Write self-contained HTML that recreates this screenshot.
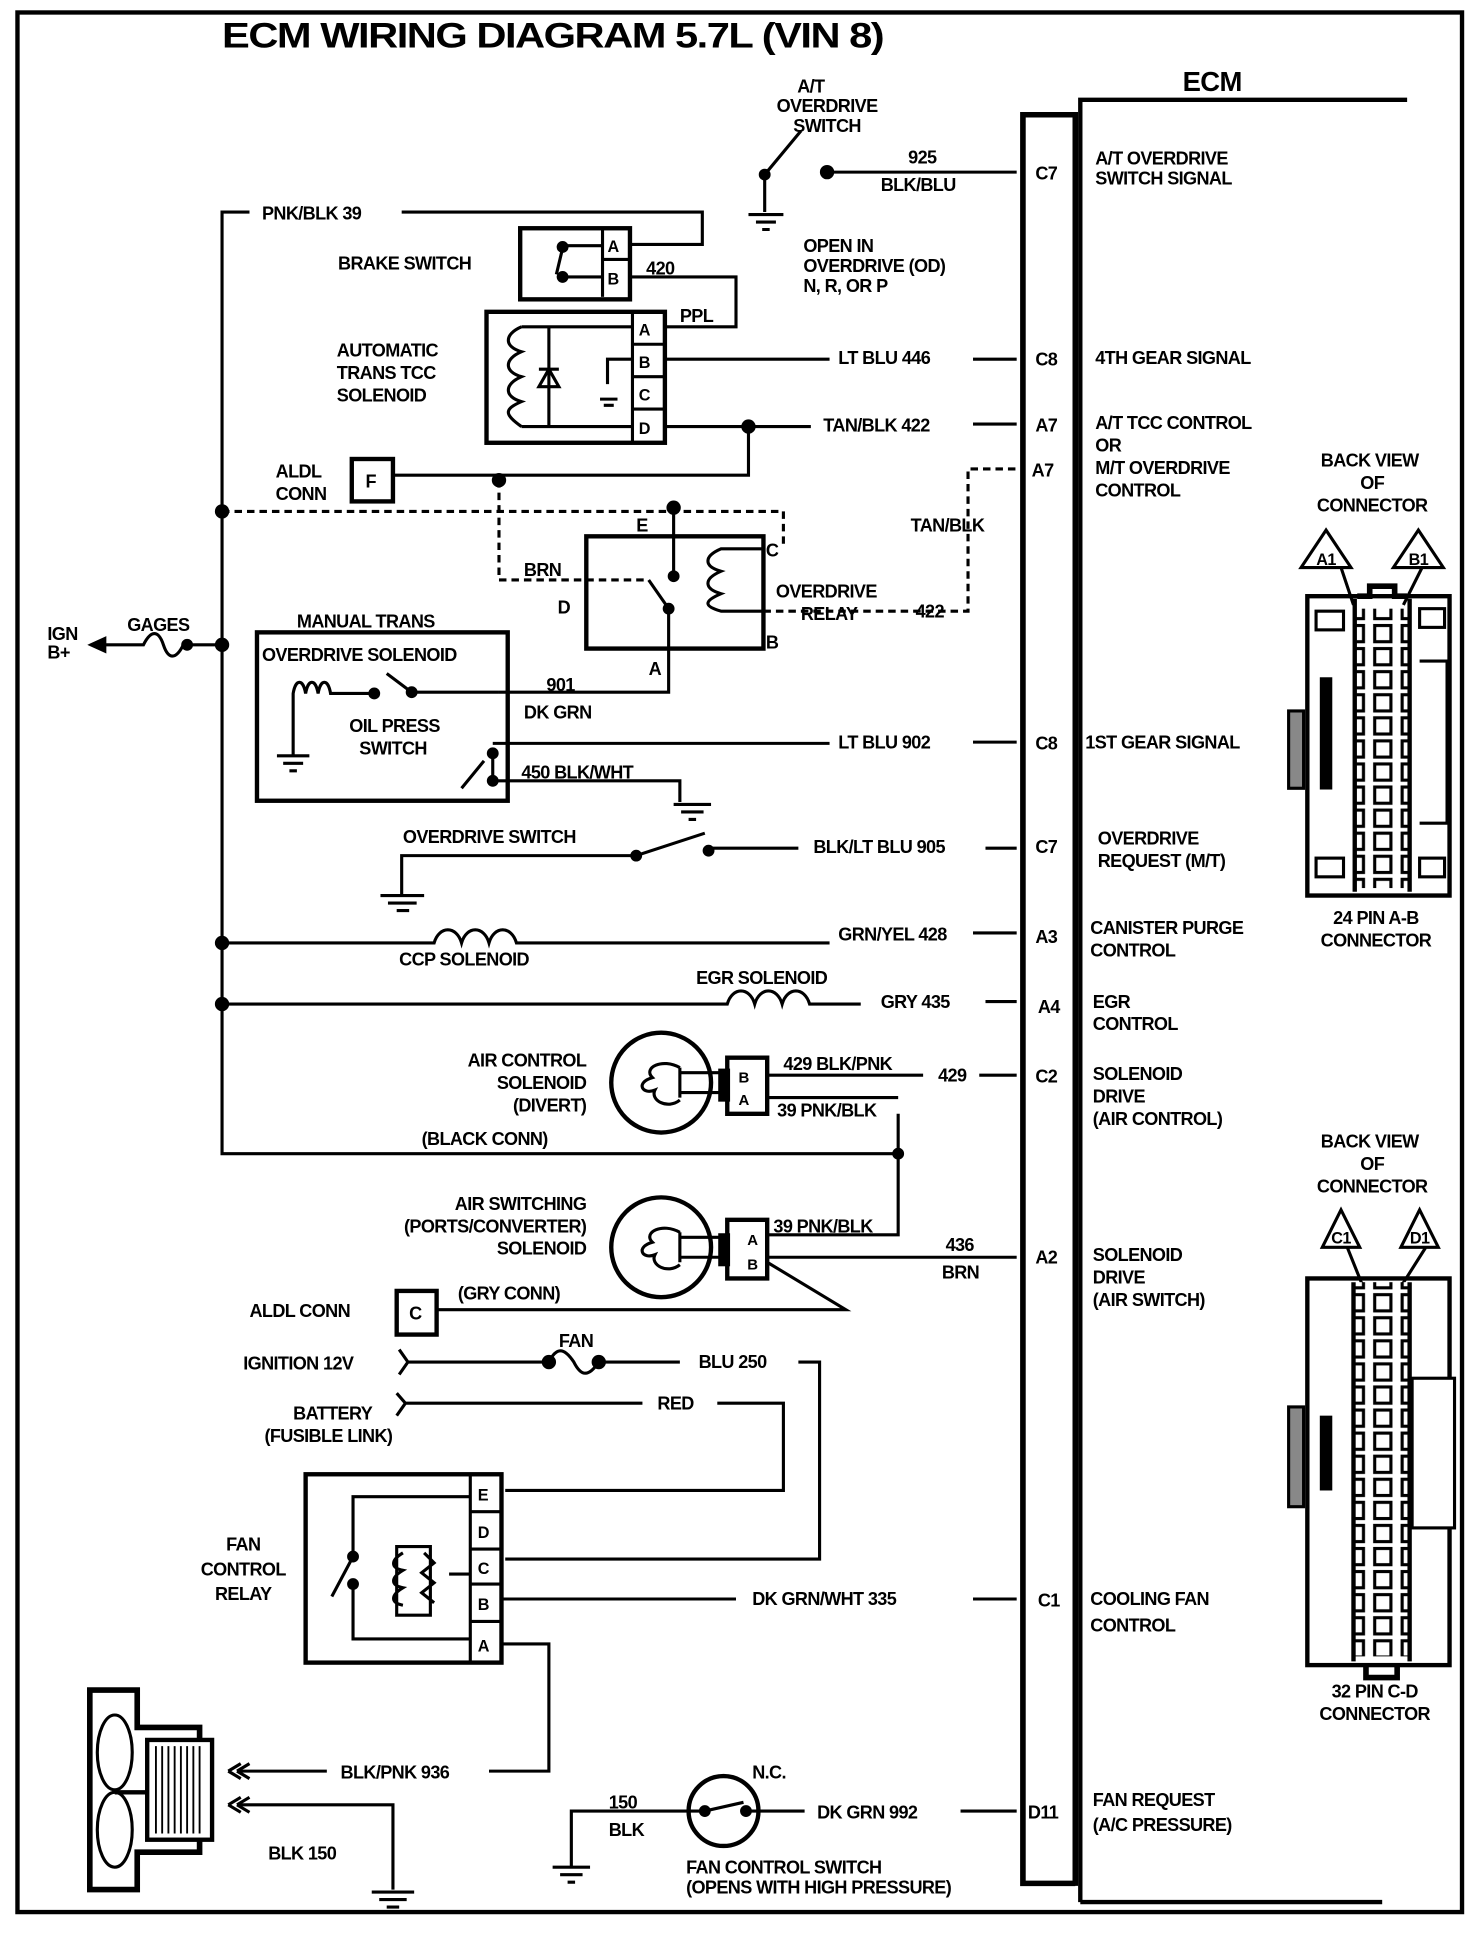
<!DOCTYPE html>
<html><head><meta charset="utf-8"><style>
html,body{margin:0;padding:0;background:#fff;}
svg{display:block;}
text{font-family:"Liberation Sans Narrow","Liberation Sans",sans-serif;font-weight:bold;font-size:14.5px;letter-spacing:-0.5px;fill:#000;}
</style></head><body>
<svg width="1472" height="1942" viewBox="0 0 1180 1557" preserveAspectRatio="none" xmlns="http://www.w3.org/2000/svg">
<defs>
<pattern id="sq" x="0" y="0" width="22" height="18.5" patternUnits="userSpaceOnUse">
<rect x="2" y="2" width="13" height="13" fill="#fff" stroke="#000" stroke-width="2.5"/>
</pattern>
</defs>
<g fill="none" stroke="#000" stroke-width="2.5">
<rect x="14" y="10" width="1158" height="1523" stroke-width="3.5"/>
<path d="M862 1512 V92 H820 V1510 H862" stroke-width="4.5"/>
<path d="M866 1525 V80 H1128" stroke-width="3.5"/>
<path d="M866 1525 H1108" stroke-width="3.5"/>
<path d="M613 170 V140 L642 105"/>
<circle cx="613" cy="140" r="3.5" fill="#000"/>
<circle cx="663" cy="138" r="4.5" fill="#000"/>
<path d="M663 138 H815"/>
<path d="M600 172 H628 M606 178 H622 M611 184 H617"/>
<path d="M200 170 H178 V925 H720 V893 M720 925 V990 H615"/>
<path d="M322 170 H563 V196 H505"/>
<rect x="417" y="183" width="88" height="57" stroke-width="3.5"/>
<path d="M483 183 V238 M483 208 H505"/>
<path d="M451 197 H483 M451 222 H483 M451 199 L446 220"/>
<circle cx="451" cy="198" r="3.5" fill="#000"/><circle cx="451" cy="222" r="3.5" fill="#000"/>
<path d="M505 222 H590 V262 H533"/>
<rect x="390" y="250" width="143" height="105" stroke-width="3.5"/>
<path d="M507 250 V355 M507 276 H533 M507 302 H533 M507 328 H533"/>
<path d="M507 262 H418 M507 342 H418 M440 262 V342 M418 262 c-14 6 -14 16 0 20 c-14 6 -14 16 0 20 c-14 6 -14 16 0 20 c-14 6 -14 10 0 20"/>
<path d="M432 310 L448 310 L440 296 Z M432 296 H448"/>
<path d="M507 288 H487 V308 M481 320 H495 M484 325 H492"/>
<path d="M533 288 H665 M780 288 H815"/>
<path d="M533 342 H650 M780 340 H815"/>
<circle cx="600" cy="342" r="4.5" fill="#000"/>
<path d="M600 342 V381 H315"/>
<circle cx="400" cy="385" r="4.5" fill="#000"/>
<rect x="282" y="368" width="33" height="34" stroke-width="3.5"/>
<path d="M178 410 H628 V440 M400 385 V465 H520 M612 490 H776 V376 H815" stroke-dasharray="6 4"/>
<circle cx="178" cy="410" r="4.5" fill="#000"/>
<rect x="470" y="430" width="142" height="90" stroke-width="3.5"/>
<circle cx="540" cy="407" r="4.5" fill="#000"/>
<path d="M540 407 V462 M520 465 L536 488 M536 488 V520 H536 V555 H400"/>
<circle cx="540" cy="462" r="3.5" fill="#000"/><circle cx="536" cy="488" r="3.5" fill="#000"/>
<path d="M612 440 H578 c-14 6 -14 14 0 18 c-14 6 -14 14 0 18 c-14 6 -14 10 0 14 H612"/>
<path d="M85 517 H115 c6 -12 12 -12 16 0 c4 12 10 12 16 0 M150 517 H178"/>
<path d="M73 517 L84 512 L84 522 Z" fill="#000"/>
<circle cx="150" cy="517" r="3.5" fill="#000"/><circle cx="178" cy="517" r="4.5" fill="#000"/>
<rect x="206" y="507" width="201" height="135" stroke-width="3.5"/>
<path d="M235 605 V556 c2 -12 8 -12 10 0 c2 -12 8 -12 10 0 c2 -12 8 -12 10 0 V556 H300 M310 540 L330 555 M330 555 H400"/>
<circle cx="300" cy="556" r="3.5" fill="#000"/><circle cx="330" cy="555" r="3.5" fill="#000"/>
<path d="M222 606 H248 M227 612 H243 M232 618 H238"/>
<path d="M395 604 V628 M370 632 L388 610"/>
<circle cx="395" cy="604" r="3.5" fill="#000"/><circle cx="395" cy="626" r="3.5" fill="#000"/>
<path d="M395 596 H665 M780 595 H815"/>
<path d="M395 626 H545 V643 M540 645 H570 M546 651 H564 M552 657 H558"/>
<path d="M322 718 V686 H510 L565 668 M568 680 H640 M790 680 H815"/>
<circle cx="510" cy="686" r="3.5" fill="#000"/><circle cx="568" cy="682" r="3.5" fill="#000"/>
<path d="M305 718 H340 M311 724 H334 M318 730 H328"/>
<circle cx="178" cy="756" r="4.5" fill="#000"/>
<path d="M178 756 H348 c4 -14 18 -14 22 0 c4 -14 18 -14 22 0 c4 -14 18 -14 22 0 H665 M780 748 H815"/>
<circle cx="178" cy="805" r="4.5" fill="#000"/>
<path d="M178 805 H583 c4 -14 18 -14 22 0 c4 -14 18 -14 22 0 c4 -14 18 -14 22 0 H690 M790 803 H815"/>
<circle cx="530" cy="868" r="40" stroke-width="3.5"/>
<path d="M545 860 H580 M545 876 H580 M545 856 V880 M545 856 c-14 -8 -30 0 -22 8 c-14 4 -8 14 2 10 c-4 8 10 16 20 8"/>
<rect x="583" y="848" width="32" height="45" stroke-width="3.5"/><rect x="577" y="858" width="7" height="24" fill="#000"/>
<path d="M615 862 H740 M785 862 H815 M615 880 H720"/>
<circle cx="720" cy="925" r="3.5" fill="#000"/>
<circle cx="530" cy="1000" r="40" stroke-width="3.5"/>
<path d="M545 992 H580 M545 1008 H580 M545 988 V1012 M545 988 c-14 -8 -30 0 -22 8 c-14 4 -8 14 2 10 c-4 8 10 16 20 8"/>
<rect x="583" y="978" width="32" height="47" stroke-width="3.5"/><rect x="577" y="990" width="7" height="24" fill="#000"/>
<path d="M615 1008 H815 M615 1012 L678 1050 H350"/>
<rect x="318" y="1035" width="32" height="35" stroke-width="3.5"/>
<path d="M320 1082 L327 1092 L320 1102 M327 1092 H440 M440 1092 c6 -12 12 -12 20 0 c6 12 12 12 20 0 H545 M640 1092 H657 V1250 H405"/>
<circle cx="440" cy="1092" r="4.5" fill="#000"/><circle cx="480" cy="1092" r="4.5" fill="#000"/>
<path d="M318 1117 L325 1125 L318 1135 M325 1125 H515 M575 1125 H628 V1195 H405"/>
<rect x="245" y="1182" width="157" height="151" stroke-width="3.5"/>
<path d="M377 1182 V1333 M377 1212 H402 M377 1242 H402 M377 1270 H402 M377 1300 H402"/>
<path d="M377 1200 H283 V1248 M266 1280 L283 1248 M283 1270 V1314 H377"/>
<circle cx="283" cy="1248" r="3.5" fill="#000"/><circle cx="283" cy="1270" r="3.5" fill="#000"/>
<path d="M318 1240 H345 V1295 H318 Z M360 1262 H377 M323 1245 c-10 6 -10 12 0 14 c-10 6 -10 12 0 14 c-10 6 -10 12 0 14 M340 1245 l8 8 l-10 8 l10 8 l-10 8 l10 8"/>
<path d="M402 1282 H590 M780 1282 H815 M402 1318 H440 V1420 H392 M262 1420 H190 M315 1515 V1447 H190"/>
<path d="M190 1420 l10 -6 M190 1420 l10 6 M183 1420 l10 -6 M183 1420 l10 6 M190 1447 l10 -6 M190 1447 l10 6 M183 1447 l10 -6 M183 1447 l10 6"/>
<path d="M298 1517 H332 M304 1523 H326 M310 1529 H320"/>
<path d="M72 1355 H110 V1385 H160 V1485 H110 V1515 H72 Z" stroke-width="4.5"/>
<ellipse cx="92" cy="1405" rx="14" ry="30"/><ellipse cx="92" cy="1467" rx="14" ry="30"/>
<rect x="118" y="1395" width="52" height="80" fill="#fff" stroke-width="3.5"/>
<path d="M125 1400 V1470 M130 1400 V1470 M135 1400 V1470 M140 1400 V1470 M145 1400 V1470 M150 1400 V1470 M155 1400 V1470 M160 1400 V1470" stroke-width="1.5"/>
<path d="M92 1437 H118" stroke-width="3.5"/>
<circle cx="580" cy="1452" r="28" stroke-width="3.5"/>
<path d="M458 1497 V1452 H565 L596 1445 M598 1452 H645 M770 1452 H815"/>
<circle cx="565" cy="1452" r="3.5" fill="#000"/><circle cx="598" cy="1452" r="3.5" fill="#000"/>
<path d="M443 1497 H473 M449 1503 H467 M455 1509 H461"/>
<path d="M1063 425 L1043 455 H1083 Z M1137 425 L1117 455 H1157 Z M1075 455 L1085 485 M1140 455 L1125 485"/>
<path d="M1088 478 H1098 V470 H1118 V478 H1128" stroke-width="4.5"/>
<rect x="1048" y="478" width="114" height="240" stroke-width="3.5"/>
<rect x="1086" y="488" width="44" height="224" fill="url(#sq)" stroke="none"/>
<path d="M1086 480 V715 M1130 480 V715" stroke-width="3.5"/>
<rect x="1055" y="490" width="22" height="15"/><rect x="1138" y="488" width="20" height="15"/>
<rect x="1055" y="688" width="22" height="15"/><rect x="1138" y="688" width="20" height="15"/>
<rect x="1058" y="543" width="10" height="90" fill="#000" stroke="none"/>
<rect x="1033" y="570" width="12" height="62" fill="#888"/>
<path d="M1138 530 H1160 V660 H1138"/>
<path d="M1075 970 L1060 1000 H1090 Z M1138 970 L1123 1000 H1153 Z M1080 1000 L1092 1030 M1143 1000 L1124 1030"/>
<rect x="1048" y="1025" width="114" height="310" stroke-width="3.5"/>
<rect x="1085" y="1028" width="44" height="300" fill="url(#sq)" stroke="none"/>
<path d="M1085 1028 V1332 M1130 1028 V1332" stroke-width="3.5"/>
<rect x="1132" y="1105" width="34" height="120" fill="#fff"/>
<rect x="1058" y="1135" width="10" height="60" fill="#000" stroke="none"/>
<rect x="1033" y="1128" width="12" height="80" fill="#888"/>
<path d="M1095 1335 V1345 H1120 V1335" stroke-width="4.5"/>
</g>
<g>
<text x="178" y="38" style="font-size:28px;letter-spacing:-1px" textLength="530" lengthAdjust="spacingAndGlyphs">ECM WIRING DIAGRAM   5.7L (VIN 8)</text>
<text x="948" y="73" style="font-size:22px">ECM</text>
<text x="650" y="74" text-anchor="middle">A/T</text>
<text x="663" y="90" text-anchor="middle">OVERDRIVE</text>
<text x="663" y="106" text-anchor="middle">SWITCH</text>
<text x="728" y="131">925</text>
<text x="706" y="153">BLK/BLU</text>
<text x="644" y="202">OPEN IN</text>
<text x="644" y="218">OVERDRIVE (OD)</text>
<text x="644" y="234">N, R, OR P</text>
<text x="210" y="176">PNK/BLK 39</text>
<text x="271" y="216">BRAKE SWITCH</text>
<text x="487" y="202" style="font-size:13px">A</text><text x="487" y="228" style="font-size:13px">B</text>
<text x="518" y="220">420</text>
<text x="545" y="258">PPL</text>
<text x="270" y="286">AUTOMATIC</text><text x="270" y="304">TRANS TCC</text><text x="270" y="322">SOLENOID</text>
<text x="512" y="269" style="font-size:13px">A</text><text x="512" y="295" style="font-size:13px">B</text><text x="512" y="321" style="font-size:13px">C</text><text x="512" y="348" style="font-size:13px">D</text>
<text x="672" y="292">LT BLU  446</text>
<text x="660" y="346">TAN/BLK 422</text>
<text x="221" y="383">ALDL</text><text x="221" y="401">CONN</text>
<text x="293" y="391">F</text>
<text x="510" y="426">E</text>
<text x="614" y="446">C</text>
<text x="420" y="462">BRN</text>
<text x="447" y="492">D</text>
<text x="614" y="520">B</text>
<text x="520" y="541">A</text>
<text x="622" y="479">OVERDRIVE</text><text x="642" y="497">RELAY</text>
<text x="734" y="495">422</text>
<text x="730" y="426">TAN/BLK</text>
<text x="38" y="513">IGN</text><text x="38" y="528">B+</text>
<text x="102" y="506">GAGES</text>
<text x="238" y="503">MANUAL TRANS</text>
<text x="210" y="530">OVERDRIVE SOLENOID</text>
<text x="438" y="554">901</text>
<text x="420" y="576">DK GRN</text>
<text x="280" y="587">OIL PRESS</text><text x="288" y="605">SWITCH</text>
<text x="672" y="600">LT BLU  902</text>
<text x="418" y="624">450  BLK/WHT</text>
<text x="323" y="676">OVERDRIVE SWITCH</text>
<text x="652" y="684">BLK/LT BLU 905</text>
<text x="672" y="754">GRN/YEL 428</text>
<text x="320" y="774">CCP SOLENOID</text>
<text x="558" y="789">EGR SOLENOID</text>
<text x="706" y="808">GRY  435</text>
<text x="470" y="855" text-anchor="end">AIR CONTROL</text>
<text x="470" y="873" text-anchor="end">SOLENOID</text>
<text x="470" y="891" text-anchor="end">(DIVERT)</text>
<text x="592" y="868" style="font-size:12px">B</text><text x="592" y="886" style="font-size:12px">A</text>
<text x="628" y="858">429 BLK/PNK</text>
<text x="752" y="867">429</text>
<text x="623" y="895">39 PNK/BLK</text>
<text x="338" y="918">(BLACK CONN)</text>
<text x="470" y="970" text-anchor="end">AIR SWITCHING</text>
<text x="470" y="988" text-anchor="end">(PORTS/CONVERTER)</text>
<text x="470" y="1006" text-anchor="end">SOLENOID</text>
<text x="599" y="998" style="font-size:12px">A</text><text x="599" y="1018" style="font-size:12px">B</text>
<text x="620" y="988">39 PNK/BLK</text>
<text x="758" y="1003">436</text><text x="755" y="1025">BRN</text>
<text x="367" y="1042">(GRY CONN)</text>
<text x="200" y="1056">ALDL CONN</text>
<text x="328" y="1058">C</text>
<text x="448" y="1080">FAN</text>
<text x="195" y="1098">IGNITION 12V</text>
<text x="560" y="1097">BLU  250</text>
<text x="235" y="1138">BATTERY</text>
<text x="212" y="1156">(FUSIBLE LINK)</text>
<text x="527" y="1130">RED</text>
<text x="383" y="1203" style="font-size:13px">E</text><text x="383" y="1233" style="font-size:13px">D</text><text x="383" y="1262" style="font-size:13px">C</text><text x="383" y="1291" style="font-size:13px">B</text><text x="383" y="1324" style="font-size:13px">A</text>
<text x="195" y="1243" text-anchor="middle">FAN</text><text x="195" y="1263" text-anchor="middle">CONTROL</text><text x="195" y="1283" text-anchor="middle">RELAY</text>
<text x="603" y="1287">DK GRN/WHT 335</text>
<text x="273" y="1426">BLK/PNK 936</text>
<text x="215" y="1491">BLK  150</text>
<text x="603" y="1426">N.C.</text>
<text x="488" y="1450">150</text><text x="488" y="1472">BLK</text>
<text x="655" y="1458">DK GRN  992</text>
<text x="550" y="1502">FAN CONTROL SWITCH</text>
<text x="550" y="1518">(OPENS WITH HIGH PRESSURE)</text>
<text x="830" y="144">C7</text><text x="830" y="293">C8</text><text x="830" y="346">A7</text><text x="827" y="382">A7</text>
<text x="830" y="601">C8</text><text x="830" y="684">C7</text><text x="830" y="756">A3</text><text x="832" y="812">A4</text>
<text x="830" y="868">C2</text><text x="830" y="1013">A2</text><text x="832" y="1288">C1</text><text x="824" y="1458">D11</text>
<text x="878" y="132">A/T OVERDRIVE</text><text x="878" y="148">SWITCH SIGNAL</text>
<text x="878" y="292">4TH GEAR SIGNAL</text>
<text x="878" y="344">A/T TCC CONTROL</text><text x="878" y="362">OR</text><text x="878" y="380">M/T OVERDRIVE</text><text x="878" y="398">CONTROL</text>
<text x="870" y="600">1ST GEAR SIGNAL</text>
<text x="880" y="677">OVERDRIVE</text><text x="880" y="695">REQUEST (M/T)</text>
<text x="874" y="749">CANISTER PURGE</text><text x="874" y="767">CONTROL</text>
<text x="876" y="808">EGR</text><text x="876" y="826">CONTROL</text>
<text x="876" y="866">SOLENOID</text><text x="876" y="884">DRIVE</text><text x="876" y="902">(AIR CONTROL)</text>
<text x="876" y="1011">SOLENOID</text><text x="876" y="1029">DRIVE</text><text x="876" y="1047">(AIR SWITCH)</text>
<text x="874" y="1287">COOLING FAN</text><text x="874" y="1308">CONTROL</text>
<text x="876" y="1448">FAN REQUEST</text><text x="876" y="1468">(A/C PRESSURE)</text>
<text x="1098" y="374" text-anchor="middle">BACK VIEW</text><text x="1100" y="392" text-anchor="middle">OF</text><text x="1100" y="410" text-anchor="middle">CONNECTOR</text>
<text x="1063" y="453" text-anchor="middle" style="font-size:13px">A1</text><text x="1137" y="453" text-anchor="middle" style="font-size:13px">B1</text>
<text x="1103" y="741" text-anchor="middle">24 PIN  A-B</text><text x="1103" y="759" text-anchor="middle">CONNECTOR</text>
<text x="1098" y="920" text-anchor="middle">BACK VIEW</text><text x="1100" y="938" text-anchor="middle">OF</text><text x="1100" y="956" text-anchor="middle">CONNECTOR</text>
<text x="1075" y="997" text-anchor="middle" style="font-size:13px">C1</text><text x="1138" y="997" text-anchor="middle" style="font-size:13px">D1</text>
<text x="1102" y="1361" text-anchor="middle">32  PIN C-D</text><text x="1102" y="1379" text-anchor="middle">CONNECTOR</text>
</g>
</svg>
</body></html>
